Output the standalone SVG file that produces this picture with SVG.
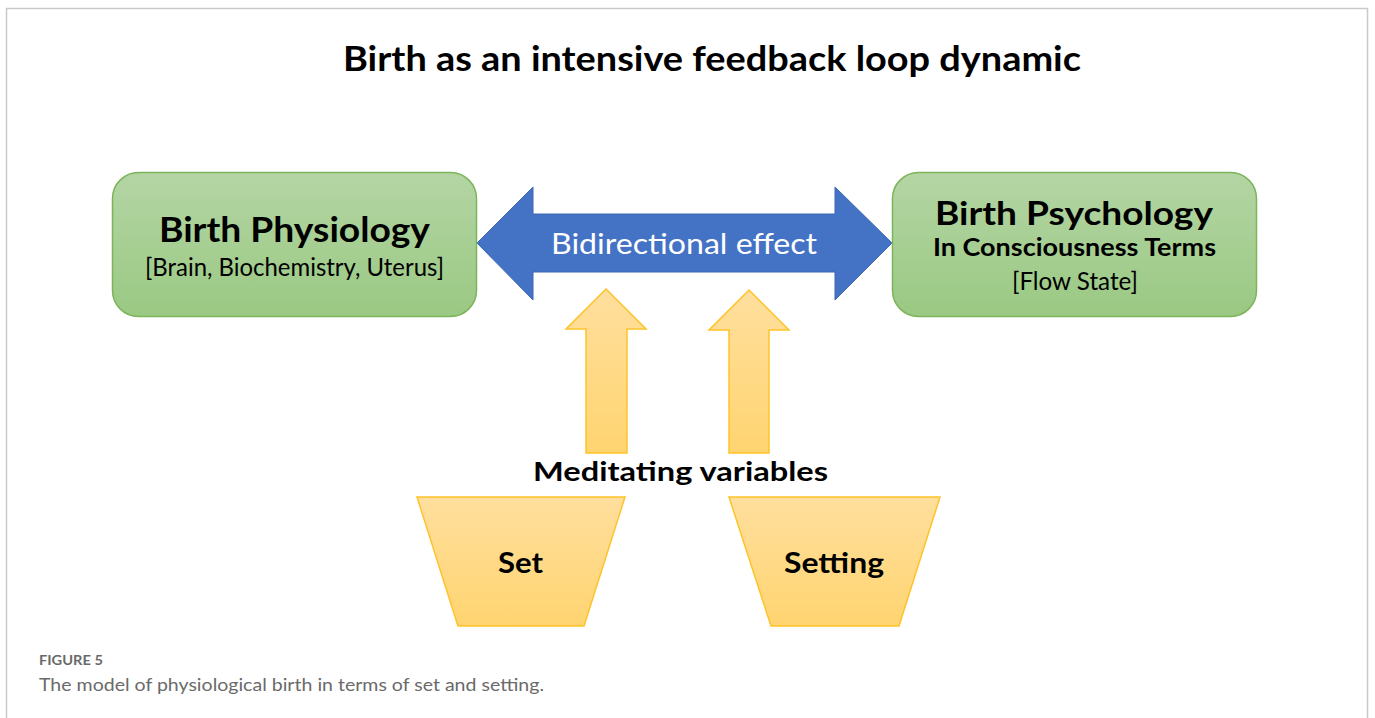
<svg xmlns="http://www.w3.org/2000/svg" width="1375" height="718" viewBox="0 0 1375 718">
  <defs>
    <linearGradient id="greenFill" x1="0" y1="0" x2="0" y2="1">
      <stop offset="0" stop-color="#b4d5a4"/>
      <stop offset="1" stop-color="#9ac983"/>
    </linearGradient>
    <linearGradient id="amberFill" x1="0" y1="0" x2="0" y2="1">
      <stop offset="0" stop-color="#ffdf9e"/>
      <stop offset="1" stop-color="#ffd470"/>
    </linearGradient>
    <style>
      .box { fill: url(#greenFill); stroke: #7cb45a; stroke-width: 1.5; }
      .amber { fill: url(#amberFill); stroke: #ffc32a; stroke-width: 1.5; stroke-linejoin: miter; }
      .t { font-family: Lato, "Liberation Sans", sans-serif; fill: #000; text-anchor: middle; }
      .b { font-weight: 700; }
      .cap { font-family: Lato, "Open Sans", sans-serif; fill: #6a6a6a; }
    </style>
  </defs>

  <!-- page frame -->
  <rect x="0" y="0" width="1375" height="718" fill="#ffffff"/>
  <path d="M6.5,730 V8.5 H1367.5 V730" fill="none" stroke="#c9c9c9" stroke-width="1.5"/>

  <!-- heading -->
  <text class="t b" x="712" y="71" font-size="34" textLength="738" lengthAdjust="spacingAndGlyphs">Birth as an intensive feedback loop dynamic</text>

  <!-- connectors -->
  <g id="connectors">
    <g id="bidirectional">
      <path d="M477,243 L533,187 L533,214 L835,214 L835,187 L892,243 L835,300 L835,272 L533,272 L533,300 Z" fill="#4472c4" stroke="#3c66b4" stroke-width="1"/>
      <text class="t" x="684" y="254" font-size="29" fill="#ffffff" style="fill:#ffffff" textLength="266" lengthAdjust="spacingAndGlyphs">Bidirectional effect</text>
    </g>
    <path id="up-set" class="amber" d="M606,289 L646,329 L627,329 L627,453 L586,453 L586,329 L566,329 Z"/>
    <path id="up-setting" class="amber" d="M749,290 L789,330 L769,330 L769,453 L729,453 L729,330 L709,330 Z"/>
  </g>

  <!-- nodes -->
  <g id="birth-physiology">
    <rect class="box" x="112.5" y="172.5" width="364" height="144" rx="26"/>
    <text class="t b" x="294.5" y="242" font-size="33.5" textLength="271" lengthAdjust="spacingAndGlyphs">Birth Physiology</text>
    <text class="t" x="294.5" y="276" font-size="25" textLength="299" lengthAdjust="spacingAndGlyphs">[Brain, Biochemistry, Uterus]</text>
  </g>

  <g id="birth-psychology">
    <rect class="box" x="892.5" y="172.5" width="364" height="144" rx="26"/>
    <text class="t b" x="1074" y="225" font-size="33" textLength="278" lengthAdjust="spacingAndGlyphs">Birth Psychology</text>
    <text class="t b" x="1074.5" y="256" font-size="24.5" textLength="283" lengthAdjust="spacingAndGlyphs">In Consciousness Terms</text>
    <text class="t" x="1075" y="290" font-size="25" textLength="126" lengthAdjust="spacingAndGlyphs">[Flow State]</text>
  </g>

  <g id="mediating-label">
    <text class="t b" x="680.5" y="481" font-size="27" textLength="295" lengthAdjust="spacingAndGlyphs">Meditating variables</text>
  </g>

  <g id="set">
    <path class="amber" d="M417,497 L625,497 L584,626 L458,626 Z"/>
    <text class="t b" x="520.5" y="573" font-size="29" textLength="45" lengthAdjust="spacingAndGlyphs">Set</text>
  </g>

  <g id="setting">
    <path class="amber" d="M729,497 L940,497 L899,626 L771,626 Z"/>
    <text class="t b" x="834" y="573" font-size="29" textLength="100" lengthAdjust="spacingAndGlyphs">Setting</text>
  </g>

  <!-- caption -->
  <text class="cap" x="39" y="665" font-size="14" font-weight="700" textLength="64" lengthAdjust="spacingAndGlyphs">FIGURE 5</text>
  <text class="cap" x="39" y="691" font-size="18" textLength="505" lengthAdjust="spacingAndGlyphs">The model of physiological birth in terms of set and setting.</text>
</svg>
